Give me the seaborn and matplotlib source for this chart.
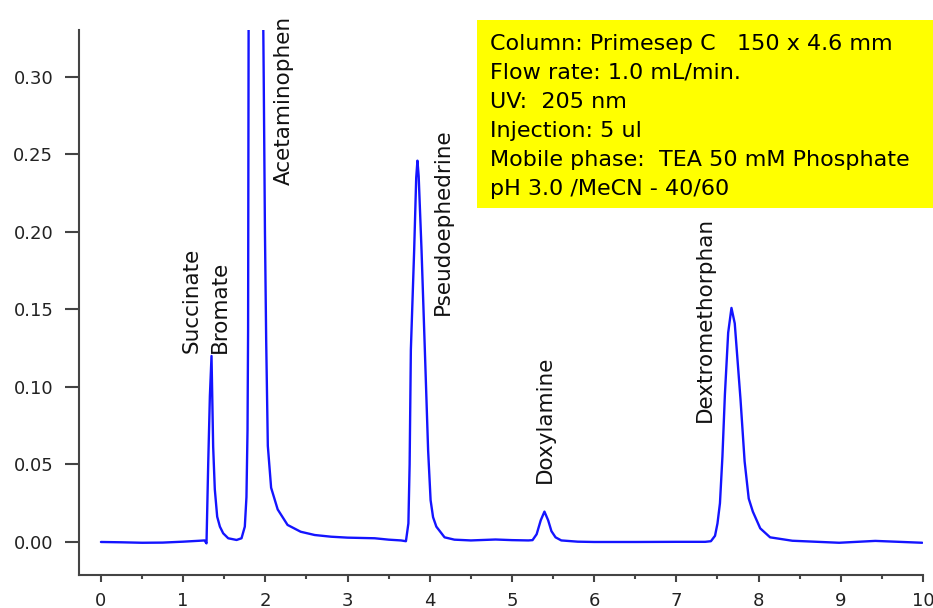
import numpy as np
import pandas as pd
import matplotlib
matplotlib.use("Agg")
import matplotlib.pyplot as plt
from matplotlib.patches import Rectangle
from matplotlib.ticker import MultipleLocator, FormatStrFormatter
import seaborn as sns

# ---- data (time in min, absorbance in AU) ----
time_min = [
    0.00, 0.25, 0.50, 0.75, 1.00, 1.20, 1.26, 1.284, 1.305, 1.325, 1.345,
    1.365, 1.385, 1.414, 1.447, 1.487, 1.548, 1.65, 1.71, 1.75, 1.77, 1.783,
    1.79, 1.80, 1.88, 1.96, 1.975, 1.98, 1.995, 2.01, 2.03, 2.07, 2.15, 2.27,
    2.43, 2.60, 2.80, 3.00, 3.33, 3.50, 3.65,
    3.71, 3.74, 3.755, 3.77, 3.81, 3.835, 3.85, 3.865, 3.90, 3.94, 3.98, 4.01,
    4.04, 4.08, 4.18, 4.30,
    4.50, 4.80, 5.00, 5.20, 5.25, 5.30, 5.35, 5.395, 5.44, 5.48, 5.53, 5.60,
    5.80, 6.00, 6.50, 7.00, 7.35,
    7.42, 7.47, 7.50, 7.53, 7.56, 7.59, 7.63, 7.67, 7.71, 7.74, 7.78, 7.83,
    7.88, 7.93, 8.02, 8.14, 8.41,
    8.98, 9.42, 9.99,
]
absorbance = [
    0.0000, -0.0002, -0.0005, -0.0004, 0.0002, 0.0008, 0.0010, -0.0009, 0.051,
    0.094, 0.120, 0.0615, 0.034, 0.0163, 0.0099, 0.0056, 0.0024, 0.0013,
    0.0024, 0.0099, 0.029, 0.072, 0.137, 0.45, 0.50, 0.45, 0.33, 0.30, 0.20,
    0.13, 0.062, 0.035, 0.021, 0.011, 0.0066, 0.0045, 0.0034, 0.0028, 0.0024,
    0.0015, 0.0010,
    0.0005, 0.012, 0.050, 0.124, 0.188, 0.235, 0.246, 0.236, 0.188, 0.124,
    0.059, 0.027, 0.016, 0.0099, 0.003, 0.0015,
    0.0010, 0.0016, 0.0012, 0.0010, 0.0012, 0.005, 0.014, 0.0196, 0.014,
    0.007, 0.003, 0.001, 0.0002, 0.0000, 0.0000, 0.0001, 0.0001,
    0.0005, 0.004, 0.012, 0.025, 0.055, 0.095, 0.135, 0.151, 0.141, 0.120,
    0.092, 0.052, 0.028, 0.0196, 0.0088, 0.003, 0.0008,
    -0.0005, 0.0007, -0.0005,
]

# peak labels: name, label time position, label bottom (AU)
label_names = ["Succinate", "Bromate", "Acetaminophen", "Pseudoephedrine",
               "Doxylamine", "Dextromethorphan"]
label_time = [1.10, 1.45, 2.22, 4.16, 5.40, 7.35]
label_base = [0.1219, 0.1219, 0.2303, 0.1465, 0.0381, 0.0774]

conditions = [
    "Column: Primesep C   150 x 4.6 mm",
    "Flow rate: 1.0 mL/min.",
    "UV:  205 nm",
    "Injection: 5 ul",
    "Mobile phase:  TEA 50 mM Phosphate",
    "pH 3.0 /MeCN - 40/60",
]

y_ticks = [0.00, 0.05, 0.10, 0.15, 0.20, 0.25, 0.30]
x_ticks = list(range(0, 11))

# ---- figure ----
sns.set_style("ticks")
plt.rcParams["font.family"] = ["DejaVu Sans"]

W, H = 933, 608
fig = plt.figure(figsize=(W / 100, H / 100), dpi=100)
ax = fig.add_axes([79 / W, 1 - 575 / H, 844 / W, 545 / H])

df = pd.DataFrame({"t": time_min, "a": absorbance})
sns.lineplot(data=df, x="t", y="a", ax=ax, color="#1414ff", lw=1.7,
             estimator=None, sort=False)

ax.set_xlim(-0.267, 10.0)
ax.set_ylim(-0.0213, 0.3303)
ax.set_xlabel("")
ax.set_ylabel("")

ax.set_yticks(y_ticks)
ax.yaxis.set_major_formatter(FormatStrFormatter("%.2f"))
ax.set_xticks(x_ticks)
ax.xaxis.set_minor_locator(MultipleLocator(0.5))

spine_col = "#444444"
for s in ["top", "right"]:
    ax.spines[s].set_visible(False)
for s in ["left", "bottom"]:
    ax.spines[s].set_color(spine_col)
    ax.spines[s].set_linewidth(1.5)

ax.tick_params(axis="y", which="major", direction="out", length=10,
               width=1.5, color=spine_col, pad=8.5, labelsize=13,
               labelcolor="#222222")
ax.tick_params(axis="x", which="major", direction="out", length=5,
               width=1.5, color=spine_col, pad=7, labelsize=13,
               labelcolor="#222222")
ax.tick_params(axis="x", which="minor", direction="out", length=3,
               width=1.5, color=spine_col)

for name, tx, ty in zip(label_names, label_time, label_base):
    ax.text(tx, ty, name, rotation=90, ha="center", va="bottom",
            fontsize=15.5, color="#111111", clip_on=False)

# conditions box
fig.add_artist(Rectangle((477 / W, 1 - 208 / H), (W - 477) / W, 188 / H,
                         transform=fig.transFigure, facecolor="#ffff00",
                         edgecolor="none", zorder=5))
baselines = [50, 79, 108, 137, 166, 195]
for txt, by in zip(conditions, baselines):
    fig.text(490 / W, 1 - by / H, txt, ha="left", va="baseline",
             fontsize=16, color="black", zorder=6)

fig.savefig("out.png", dpi=100, facecolor="white")
